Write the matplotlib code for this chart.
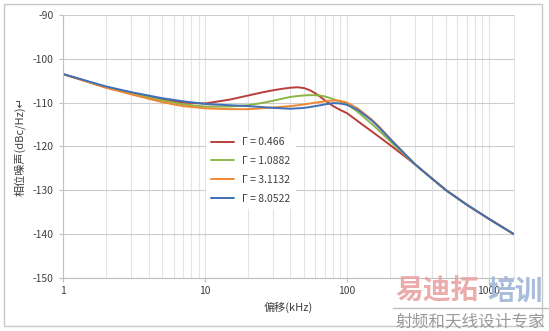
import matplotlib

matplotlib.use("Agg")

import matplotlib.pyplot as plt  # noqa: E402
from matplotlib.ticker import FixedLocator, NullFormatter  # noqa: E402

plt.rcParams["font.family"] = ["Noto Sans CJK SC", "DejaVu Sans"]
plt.rcParams["axes.unicode_minus"] = False

# offset frequency (kHz)
freq = [1, 2, 3, 5, 7, 10, 15, 20, 25, 30, 35, 40, 45, 50, 55, 60, 65, 70, 80, 90,
        100, 120, 150, 170, 200, 300, 400, 500, 700, 1000, 1500]

# phase noise (dBc/Hz) per damping value
pn_0466 = [-103.5, -106.5, -107.8, -109.3, -110.0, -110.2, -109.3, -108.4, -107.7,
           -107.2, -106.85, -106.6, -106.5, -106.7, -107.2, -107.9, -108.7, -109.5,
           -110.8, -111.7, -112.4, -114.3, -116.6, -117.9, -119.6, -124.0, -127.4,
           -130.0, -133.3, -136.5, -140.0]
pn_10882 = [-103.5, -106.5, -107.9, -109.5, -110.4, -110.9, -110.9, -110.6, -110.1,
            -109.6, -109.1, -108.7, -108.5, -108.35, -108.3, -108.3, -108.4, -108.6,
            -109.2, -109.8, -110.3, -112.2, -114.9, -116.5, -118.7, -124.0, -127.4,
            -130.0, -133.3, -136.5, -140.0]
pn_31132 = [-103.5, -106.6, -108.1, -109.9, -110.8, -111.3, -111.5, -111.5, -111.3,
            -111.1, -110.95, -110.8, -110.6, -110.4, -110.2, -110.0, -109.85, -109.7,
            -109.5, -109.6, -110.0, -111.4, -113.9, -115.6, -118.1, -124.0, -127.4,
            -130.0, -133.3, -136.5, -140.0]
pn_80522 = [-103.5, -106.3, -107.6, -109.0, -109.7, -110.3, -110.6, -110.8, -111.0,
            -111.2, -111.3, -111.4, -111.3, -111.2, -111.0, -110.8, -110.6, -110.4,
            -110.1, -110.2, -110.5, -111.7, -114.1, -115.8, -118.2, -124.0, -127.4,
            -130.0, -133.3, -136.5, -140.0]

labels = ["Γ = 0.466", "Γ = 1.0882", "Γ = 3.1132", "Γ = 8.0522"]
colors = ["#b8403a", "#8db544", "#ee8733", "#3f6fb8"]

y_ticks = [-150, -140, -130, -120, -110, -100, -90]
x_major = [1, 10, 100, 1000]

fig = plt.figure(figsize=(5.49, 3.31), dpi=100)
ax = fig.add_axes([0.115, 0.16, 0.821, 0.795])

for series, lab, col in zip([pn_0466, pn_10882, pn_31132, pn_80522], labels, colors):
    ax.plot(freq, series, color=col, lw=1.4, label=lab, solid_capstyle="round",
            solid_joinstyle="round")

ax.set_xscale("log")
ax.set_xlim(1, 1500)
ax.set_ylim(-150, -90)
ax.set_yticks(y_ticks)
ax.xaxis.set_major_locator(FixedLocator(x_major))
ax.set_xticklabels([str(v) for v in x_major])
minor = [m * d for d in (1, 10, 100, 1000) for m in range(2, 10) if m * d < 1500]
ax.xaxis.set_minor_locator(FixedLocator(minor))
ax.xaxis.set_minor_formatter(NullFormatter())

ax.grid(which="major", axis="y", color="#cccccc", lw=0.8)
ax.grid(which="both", axis="x", color="#e3e3e3", lw=0.8)
ax.set_axisbelow(True)

ax.spines["top"].set_visible(False)
ax.spines["right"].set_color("#e3e3e3")
for side in ("left", "bottom"):
    ax.spines[side].set_color("#bfbfbf")
    ax.spines[side].set_linewidth(0.8)

ax.tick_params(axis="both", which="major", colors="#bfbfbf", labelcolor="#404040",
               labelsize=7.5, length=3, width=0.8)
ax.tick_params(axis="x", which="minor", length=0)
ax.tick_params(axis="x", which="major", pad=3)
ax.tick_params(axis="y", which="major", pad=4)

ax.set_xlabel("偏移(kHz)", fontsize=8, color="#404040", labelpad=4)
ax.set_ylabel("相位噪声(dBc/Hz)↵", fontsize=8, color="#404040", labelpad=5)

leg = ax.legend(loc="upper left", bbox_to_anchor=(0.305, 0.575), fontsize=7.5,
                frameon=True, facecolor="white", edgecolor="none", framealpha=1.0,
                handlelength=2.2, labelspacing=0.85, borderpad=0.5, fancybox=False)
for txt in leg.get_texts():
    txt.set_color("#404040")

# outer chart border
fig.patches.append(plt.Rectangle((0.008, 0.015), 0.98, 0.972, transform=fig.transFigure,
                                 fill=False, edgecolor="#c8c8c8", lw=1.0))

# site watermark
fig.text(0.72, 0.118, "易迪拓", fontsize=20, fontweight="bold", color="#e9a3a3",
         ha="left", va="center", alpha=0.9)
fig.text(0.888, 0.118, "培训", fontsize=20, fontweight="bold", color="#9fb5d8",
         ha="left", va="center", alpha=0.9)
fig.add_artist(plt.Line2D([0.715, 1.0], [0.07, 0.07], transform=fig.transFigure,
                          color="#bdbdbd", lw=1.0))
fig.text(0.72, 0.027, "射频和天线设计专家", fontsize=12, color="#9a9a9a",
         ha="left", va="center")

fig.savefig("out.png", dpi=100)
